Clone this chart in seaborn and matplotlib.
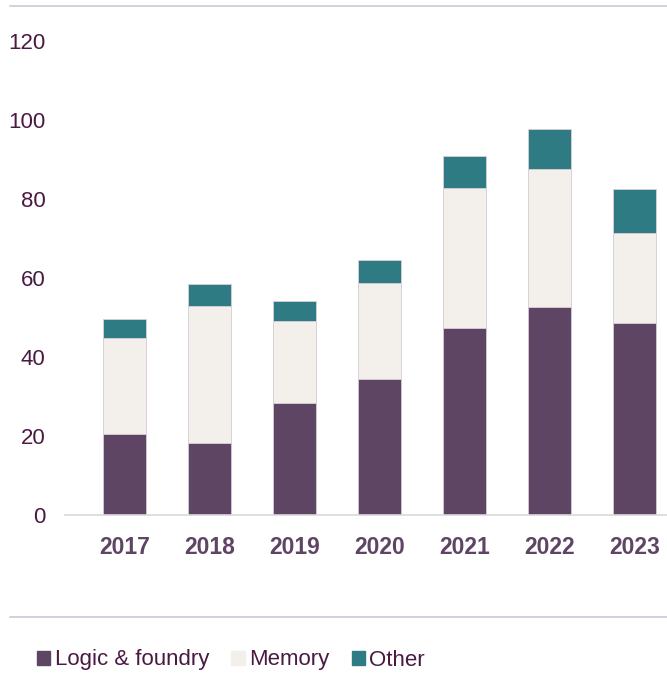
import matplotlib
matplotlib.use("Agg")
import matplotlib.pyplot as plt
import seaborn as sns
import pandas as pd
import numpy as np
from matplotlib.patches import Patch
from matplotlib.lines import Line2D

years = ["2017", "2018", "2019", "2020", "2021", "2022", "2023"]
logic = [20.5, 18.2, 28.4, 34.4, 47.3, 52.7, 48.6]
memory = [24.3, 34.7, 20.7, 24.3, 35.5, 34.9, 22.8]
other = [4.8, 5.6, 5.1, 5.9, 8.1, 10.1, 11.1]

C_LOGIC = "#5E4563"
C_MEMORY = "#F3EFEA"
C_OTHER = "#2E7B84"
C_TEXT = "#4A1942"

sns.set_style("white")
plt.rcParams["font.family"] = ["Liberation Sans", "DejaVu Sans"]

df = pd.DataFrame({"year": years, "logic": logic, "memory": memory, "other": other})
df["lm"] = df["logic"] + df["memory"]
df["total"] = df["lm"] + df["other"]

fig = plt.figure(figsize=(6.67, 6.75), dpi=100)
ax = fig.add_axes([65 / 667, (675 - 515) / 675, 602 / 667, 474 / 675])

edge = "#D8D0DA"
sns.barplot(data=df, x="year", y="total", color=C_OTHER, width=0.5, ax=ax,
            saturation=1, edgecolor=edge, linewidth=0.6)
sns.barplot(data=df, x="year", y="lm", color=C_MEMORY, width=0.5, ax=ax,
            saturation=1, edgecolor=edge, linewidth=0.6)
sns.barplot(data=df, x="year", y="logic", color=C_LOGIC, width=0.5, ax=ax,
            saturation=1, edgecolor=edge, linewidth=0.6)

ax.set_xlim(-0.7, 6.38)
ax.set_ylim(0, 120)
ax.set_yticks([0, 20, 40, 60, 80, 100, 120])
ax.set_xlabel("")
ax.set_ylabel("")
for s in ["top", "right", "left"]:
    ax.spines[s].set_visible(False)
ax.spines["bottom"].set_color("#D9D9D9")
ax.spines["bottom"].set_linewidth(1.2)
ax.tick_params(axis="y", length=0, labelsize=16, labelcolor=C_TEXT, pad=14)
ax.tick_params(axis="x", length=0, labelsize=16.5, labelcolor=C_LOGIC, pad=15)
for lbl in ax.get_xticklabels():
    lbl.set_fontweight("bold")

# horizontal rules at top and above the legend
fig.add_artist(Line2D([10 / 667, 1], [1 - 6 / 675] * 2, color="#CFC6D4", lw=1.2))
fig.add_artist(Line2D([10 / 667, 1], [1 - 617 / 675] * 2, color="#CFC6D4", lw=1.2))

handles = [Patch(color=C_LOGIC), Patch(color=C_MEMORY), Patch(color=C_OTHER)]
labels = ["Logic & foundry", "Memory", "Other"]
leg = fig.legend(handles, labels, loc="center left", bbox_to_anchor=(37 / 667, 1 - 660 / 675),
                 ncol=3, frameon=False, fontsize=16, handlelength=0.6, handleheight=0.6,
                 handletextpad=0.2, columnspacing=1.0, borderaxespad=0, borderpad=0)
for t in leg.get_texts():
    t.set_color(C_TEXT)

fig.savefig("out.png", dpi=100)
